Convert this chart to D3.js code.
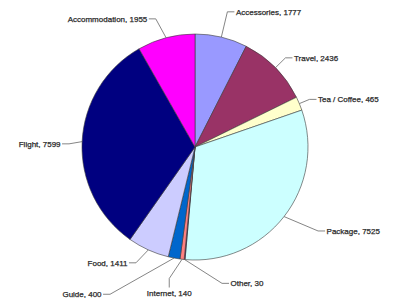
<!DOCTYPE html>
<html>
<head>
<meta charset="utf-8">
<script src="https://cdn.jsdelivr.net/npm/d3@7"></script>
<style>
  html, body { margin: 0; padding: 0; background: #fff; }
  svg { display: block; }
  .lbl { font-family: "Liberation Sans", Arial, sans-serif; font-size: 8px; fill: #2a2a2a; stroke: #2a2a2a; stroke-width: 0.25px; }
</style>
</head>
<body>
<svg id="chart" width="400" height="304"></svg>
<script>
// expense categories, clockwise from 12 o'clock
const categories = ['Accessories', 'Travel', 'Tea / Coffee', 'Package', 'Other', 'Internet', 'Guide', 'Food', 'Flight', 'Accommodation'];
const amounts = [1777, 2436, 465, 7525, 30, 140, 400, 1411, 7599, 1955];
const colors = ['#9999ff', '#993366', '#ffffcc', '#ccffff', '#660066', '#ff8080', '#0066cc', '#ccccff', '#000080', '#ff00ff'];

// where excel dropped each label: elbow radius + angle nudge (deg) from slice middle
const labelRadius = [139, 127, 124, 149, 139, 134, 170, 130, 126, 134];
const labelNudge = [0, 0, 0, -3.7, -16.5, 4.5, 19.3, 2.6, -1.3, -2.2];

const svg = d3.select('#chart');
const cx = 195, cy = 147, radius = 113;

const data = categories.map((c, i) => ({ name: c, value: amounts[i], color: colors[i], i: i }));

const pie = d3.pie().value(d => d.value).sort(null);
const arcs = pie(data);

const arc = d3.arc().innerRadius(0).outerRadius(radius);

const g = svg.append('g').attr('transform', `translate(${cx},${cy})`);

g.selectAll('path.slice')
    .data(arcs)
    .enter().append('path')
    .attr('class', 'slice')
    .attr('d', arc)
    .attr('fill', d => d.data.color)
    .attr('stroke', '#3a3a3a')
    .attr('stroke-width', 0.6);

const polar = (r, a) => [r * Math.sin(a), -r * Math.cos(a)];
const deg = Math.PI / 180;

arcs.forEach(d => {
    const i = d.data.i;
    const mid = (d.startAngle + d.endAngle) / 2;
    const edge = polar(radius, mid);
    const elbow = polar(labelRadius[i], mid + labelNudge[i] * deg);
    const text = `${d.data.name}, ${d.data.value}`;

    if (d.data.name === 'Internet') {
        // this one sits underneath with a vertical tail
        const tail = [elbow[0], elbow[1] + 9];
        g.append('path')
            .attr('d', d3.line()([edge, elbow, tail]))
            .attr('fill', 'none').attr('stroke', '#666').attr('stroke-width', 0.8);
        g.append('text').attr('class', 'lbl')
            .attr('x', elbow[0]).attr('y', tail[1] + 8)
            .attr('text-anchor', 'middle')
            .text(text);
        return;
    }

    const right = elbow[0] >= 0;
    const end = [elbow[0] + (right ? 7 : -7), elbow[1]];
    g.append('path')
        .attr('d', d3.line()([edge, elbow, end]))
        .attr('fill', 'none').attr('stroke', '#666').attr('stroke-width', 0.8);
    g.append('text').attr('class', 'lbl')
        .attr('x', end[0] + (right ? 1.5 : -1.5)).attr('y', end[1])
        .attr('dy', '0.35em')
        .attr('text-anchor', right ? 'start' : 'end')
        .text(text);
});
</script>
</body>
</html>
